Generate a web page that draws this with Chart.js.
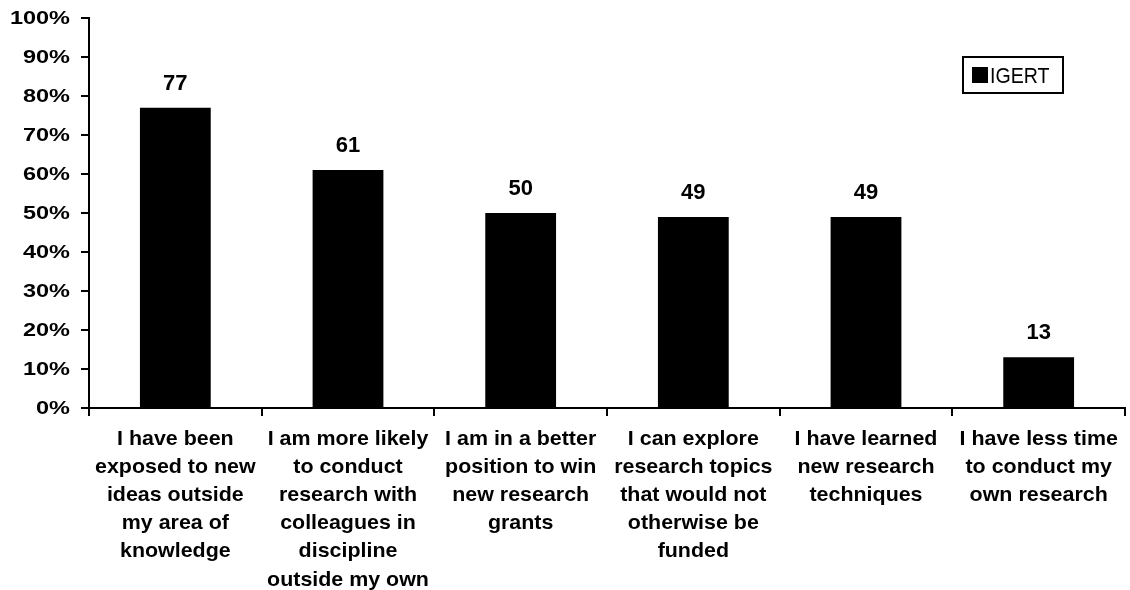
<!DOCTYPE html>
<html>
<head>
<meta charset="utf-8">
<script src="https://cdn.jsdelivr.net/npm/chart.js@4/dist/chart.umd.min.js"></script>
<style>
html,body{margin:0;padding:0;background:#fff;}
#wrap{position:relative;width:1130px;height:590px;}
</style>
</head>
<body>
<div id="wrap"><canvas id="c" width="1130" height="590"></canvas></div>
<script>
const categories = [
  ["I have been", "exposed to new", "ideas outside", "my area of", "knowledge"],
  ["I am more likely", "to conduct", "research with", "colleagues in", "discipline", "outside my own"],
  ["I am in a better", "position to win", "new research", "grants"],
  ["I can explore", "research topics", "that would not", "otherwise be", "funded"],
  ["I have learned", "new research", "techniques"],
  ["I have less time", "to conduct my", "own research"]
];
const seriesName = "IGERT";
const values = [77, 61, 50, 49, 49, 13];
const yTicks = [0, 10, 20, 30, 40, 50, 60, 70, 80, 90, 100];

const FONT = "Arial, 'Liberation Sans', sans-serif";

function stretchText(ctx, text, x, y, sx, align) {
  ctx.save();
  ctx.translate(x, y);
  ctx.scale(sx, 1);
  ctx.textAlign = align;
  ctx.fillText(text, 0, 0);
  ctx.restore();
}

const textPlugin = {
  id: 'textPlugin',
  afterDraw(chart) {
    const ctx = chart.ctx;
    const xs = chart.scales.x, ys = chart.scales.y;
    const area = chart.chartArea;
    ctx.save();
    ctx.fillStyle = '#000';
    ctx.textBaseline = 'middle';
    // y tick labels
    ctx.font = "bold 18.5px " + FONT;
    yTicks.forEach(v => {
      stretchText(ctx, v + '%', 70, ys.getPixelForValue(v) + 1, 1.27, 'right');
    });
    // x category labels
    ctx.textBaseline = 'alphabetic';
    ctx.font = "bold 21px " + FONT;
    chart.data.labels.forEach((lines, i) => {
      const cx = xs.getPixelForValue(i);
      lines.forEach((ln, k) => {
        stretchText(ctx, ln, cx, area.bottom + 36.5 + k * 28.2, 1.02, 'center');
      });
    });
    // value labels
    ctx.font = "bold 22px " + FONT;
    const meta = chart.getDatasetMeta(0);
    meta.data.forEach((bar, i) => {
      stretchText(ctx, String(chart.data.datasets[0].data[i]), bar.x, bar.y - 18, 1.0, 'center');
    });
    // legend
    const ds = chart.data.datasets[0];
    ctx.fillStyle = '#fff';
    ctx.fillRect(963, 57, 100, 36);
    ctx.strokeStyle = '#000';
    ctx.lineWidth = 2;
    ctx.strokeRect(963, 57, 100, 36);
    ctx.fillStyle = ds.backgroundColor;
    ctx.fillRect(972, 67, 16, 16);
    ctx.font = "22px " + FONT;
    stretchText(ctx, ds.label, 990, 83, 0.89, 'left');
    ctx.restore();
  }
};

new Chart(document.getElementById('c'), {
  type: 'bar',
  data: {
    labels: categories,
    datasets: [{
      label: seriesName,
      data: values,
      backgroundColor: '#000000',
      borderWidth: 0,
      categoryPercentage: 0.82,
      barPercentage: 0.5
    }]
  },
  options: {
    responsive: false,
    animation: false,
    devicePixelRatio: 1,
    layout: { padding: { top: 18, right: 5, left: 0, bottom: 0 } },
    plugins: {
      legend: { display: false },
      tooltip: { enabled: false }
    },
    scales: {
      x: {
        offset: true,
        afterFit(scale) { scale.height = 182; },
        border: { display: true, color: '#000', width: 2 },
        grid: { display: true, drawOnChartArea: false, drawTicks: true, tickLength: 8, color: '#000', lineWidth: 2, offset: true },
        ticks: { display: false, autoSkip: false, maxRotation: 0, minRotation: 0 }
      },
      y: {
        min: 0, max: 100,
        afterFit(scale) { scale.width = 89; },
        afterBuildTicks(scale) { scale.ticks = yTicks.map(v => ({ value: v })); },
        border: { display: true, color: '#000', width: 2 },
        grid: { display: true, drawOnChartArea: false, drawTicks: true, tickLength: 8, color: '#000', lineWidth: 2 },
        ticks: { display: false }
      }
    }
  },
  plugins: [textPlugin]
});
</script>
</body>
</html>
